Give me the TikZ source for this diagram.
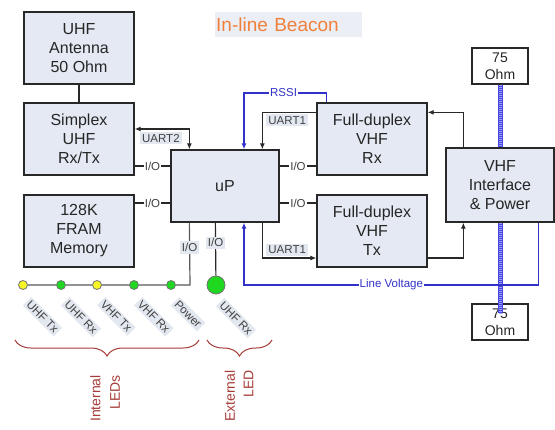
\documentclass[tikz,border=0pt]{standalone}
\usepackage{fontspec}
\setmainfont{Liberation Sans}
\usetikzlibrary{arrows.meta,positioning,decorations.pathreplacing}
\definecolor{boxfill}{RGB}{228,233,243}
\definecolor{tagfill}{RGB}{226,231,240}
\definecolor{wirec}{RGB}{40,40,40}
\definecolor{sigblue}{RGB}{50,50,200}
\definecolor{cablec}{RGB}{70,70,225}
\definecolor{cablelt}{RGB}{160,160,245}
\definecolor{bracec}{RGB}{165,60,55}
\definecolor{titlec}{RGB}{240,128,60}
\definecolor{ledy}{RGB}{245,245,40}
\definecolor{ledg}{RGB}{30,215,30}
\tikzset{
  blk/.style={draw=wirec,line width=1.3pt,fill=boxfill,align=center,inner sep=0pt,
    minimum width=110pt,minimum height=72pt,font=\fontsize{16}{19}\selectfont,text=black!85},
  ohm/.style={draw=wirec,line width=1.3pt,fill=white,align=center,inner sep=0pt,
    minimum width=56pt,minimum height=36pt,font=\fontsize{14}{17.5}\selectfont,text=black!85},
  led/.style={circle,draw=black!55,line width=0.8pt,inner sep=0pt,minimum size=9pt},
  wire/.style={draw=wirec,line width=1.2pt},
  sig/.style={draw=sigblue,line width=1.2pt},
  lbl/.style={fill=white,inner sep=1pt,font=\fontsize{11.5}{13}\selectfont,text=black!75},
  tag/.style={fill=tagfill,inner sep=2pt,font=\fontsize{11.5}{13}\selectfont,text=black!75},
  brc/.style={draw=bracec,line width=1pt,decorate,decoration={brace,amplitude=16pt}},
}

\begin{document}
\begin{tikzpicture}[x=1pt,y=-1pt,>={Latex[length=6pt,width=5pt]}]
  \useasboundingbox (0,0) rectangle (555,429);
  % title
  \node[fill=tagfill!70,anchor=west,inner xsep=1pt,inner ysep=0pt,minimum height=25pt,
    text width=145pt,align=left,text=titlec,font=\fontsize{19}{22}\selectfont] (title) at (215,24.5) {In-line Beacon};
  % blocks
  \node[blk] (ant) at (79,48) {UHF\\Antenna\\50 Ohm};
  \node[blk] (uhf) at (79,139) {Simplex\\UHF\\Rx/Tx};
  \node[blk] (fram) at (79,231) {128K\\FRAM\\Memory};
  \node[blk,minimum width=108pt] (up) at (225,186) {uP};
  \node[blk] (vrx) at (372,139) {Full-duplex\\VHF\\Rx};
  \node[blk] (vtx) at (372,231) {Full-duplex\\VHF\\Tx};
  \node[ohm] (ohmt) at (500,66) {75\\Ohm};
  \node[ohm] (ohmb) at (500,322) {75\\Ohm};
  % coax
  \draw[cablec,line width=5pt] (ohmt.south) -- ([yshift=-10pt]ohmb.north);
  \draw[cablelt,line width=3pt,dash pattern=on 1pt off 1pt] (ohmt.south) -- ([yshift=-10pt]ohmb.north);
  \node[blk,minimum width=108pt,minimum height=74pt] (vif) at (500,185) {VHF\\Interface\\\& Power};
  \coordinate (io1) at (0,166);
  \coordinate (io2) at (0,203);
  \coordinate (rssi) at (244,93);
  \coordinate (lv) at (244,285);
  % links
  \draw[wire] (ant) -- (uhf);
  \draw[wire,<->] ([yshift=10pt]uhf.east) -| node[tag,pos=0.24,below=2.5pt] {UART2} ([xshift=19pt]up.north west);
  \draw[wire] (uhf.east |- io1) -- node[lbl] {I/O} (up.west |- io1);
  \draw[wire] (fram.east |- io2) -- node[lbl] {I/O} (up.west |- io2);
  \draw[wire] (up.east |- io1) -- node[lbl] {I/O} (vrx.west |- io1);
  \draw[wire] (up.east |- io2) -- node[lbl] {I/O} (vtx.west |- io2);
  \draw[sig,->] ([xshift=10pt]vrx.north west) |- node[lbl,pos=0.76,text=sigblue] {RSSI} (rssi) -- (rssi |- up.north);
  \draw[wire,->] ([yshift=-10pt]vrx.north west) -| node[tag,pos=0.27,below=1.5pt] {UART1} ([xshift=92pt]up.north west);
  \draw[wire,->] ([xshift=92pt]up.south west) |- node[tag,pos=0.73,above=1.5pt] {UART1} ([yshift=-27pt]vtx.west);
  \draw[wire,->] ([yshift=-27pt]vtx.east) -| ([xshift=18pt]vif.south west);
  \draw[wire,->] ([xshift=18pt]vif.north west) |- ([yshift=-10pt]vrx.north east);
  \draw[sig,->] ([xshift=-16pt]vif.south east) |- node[lbl,pos=0.75,text=sigblue] {Line Voltage} (lv) -- (lv |- up.south);
  % LEDs
  \coordinate (iob) at (190,285);
  \foreach \x/\c/\t [count=\i] in {23/ledy/UHF Tx,61/ledg/UHF Rx,97/ledy/VHF Tx,134/ledg/VHF Rx,171/ledg/Power}{
    \node[led,fill=\c] (l\i) at (\x,285) {};
    \node[tag,rotate=-45,anchor=west] (t\i) at (\x+4,301) {\t};
  }
  \draw[wire,draw=black!65] (l1) -- (l2) -- (l3) -- (l4) -- (l5) -- (iob) -- node[tag,pos=0.6] {I/O} ([xshift=19pt]up.south west);
  \node[led,fill=ledg,minimum size=18pt] (ext) at (216,285) {};
  \node[tag,rotate=-45,anchor=west] (text) at (220,302) {UHF Rx};
  \draw[wire] ([xshift=45pt]up.south west) -- node[tag,pos=0.38] {I/O} (ext);
  % groups
  \draw[brc] (199,340) -- (15,340);
  \draw[brc] (272,340) -- (207,340);
  \node[rotate=90,anchor=west,align=right,text=bracec,inner sep=0pt,font=\fontsize{14}{19.5}\selectfont] (intl) at (105,422) {Internal\\LEDs};
  \node[rotate=90,anchor=west,align=right,text=bracec,inner sep=0pt,font=\fontsize{14}{18.5}\selectfont] (extl) at (239,422) {External\\LED};
\end{tikzpicture}
\end{document}
